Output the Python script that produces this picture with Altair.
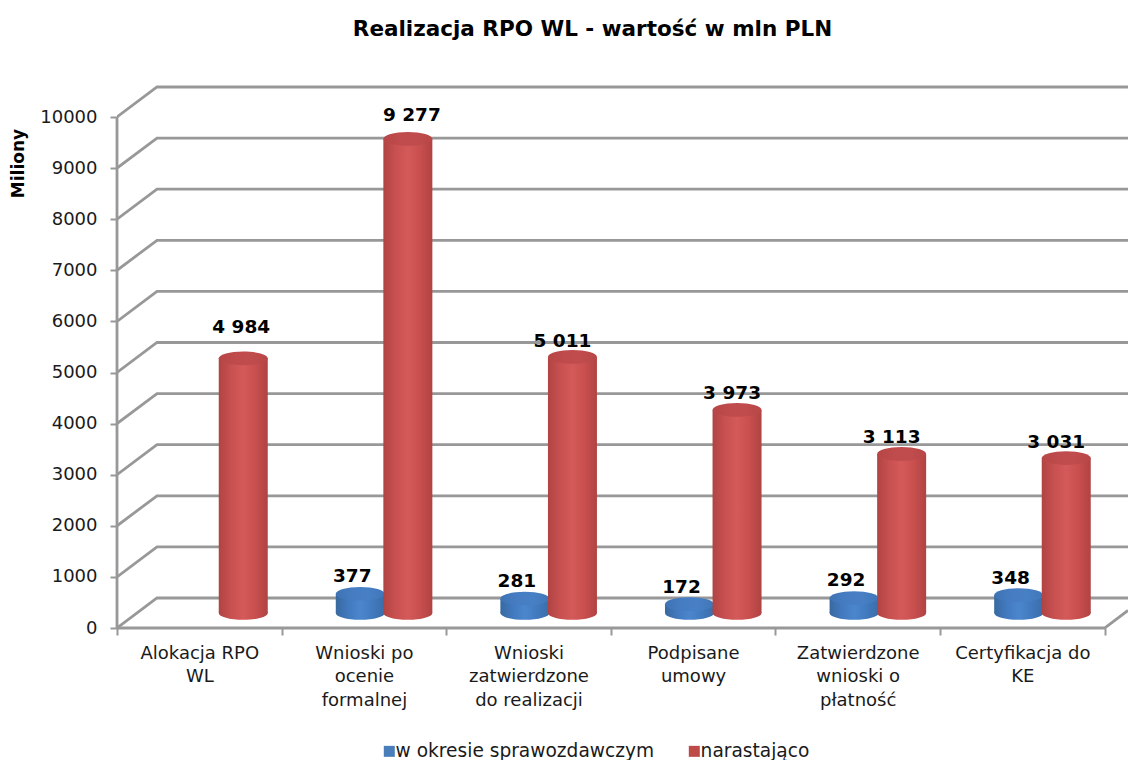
import json
import altair as alt
import pandas as pd

TITLE = "Realizacja RPO WL - wartość w mln PLN"
Y_TITLE = "Miliony"
CATEGORIES = [
    ["Alokacja RPO", "WL"],
    ["Wnioski po", "ocenie", "formalnej"],
    ["Wnioski", "zatwierdzone", "do realizacji"],
    ["Podpisane", "umowy"],
    ["Zatwierdzone", "wnioski o", "płatność"],
    ["Certyfikacja do", "KE"],
]
SERIES_NAMES = ["w okresie sprawozdawczym", "narastająco"]
PERIOD = [None, 377, 281, 172, 292, 348]
CUMULATIVE = [4984, 9277, 5011, 3973, 3113, 3031]
Y_TICKS = [0, 1000, 2000, 3000, 4000, 5000, 6000, 7000, 8000, 9000, 10000]

# layout of the pseudo-3D box (in data units of the two scales)
PLOT_W, PLOT_H = 1011, 568
PX_X, PX_Y = 164.6, 0.0511
X_MAX = PLOT_W / PX_X
Y_MAX = PLOT_H / PX_Y
DX, DV = 40 / PX_X, 30 / PX_Y
BASE = 15 / PX_Y
HALF = 24.5 / PX_X
CENTER = {"blue": 0.478, "red": 0.767}
NUDGE_RED = [(-2, 31), (4, 24), (-10, 16), (-5, 17), (-10, 17), (-10, 16)]
NUDGE_BLUE = [None, (-8, 18), (-8, 18), (-8, 17), (-8, 18), (-8, 17)]

GRID = "#989898"
FONT = "DejaVu Sans"

xs = alt.Scale(domain=[0, X_MAX], nice=False, zero=False)
ys = alt.Scale(domain=[0, Y_MAX], nice=False, zero=False)

labels_js = json.dumps(CATEGORIES, ensure_ascii=False)
X_AXIS = alt.Axis(
    values=[i / 2 for i in range(13)], domain=False, grid=False, title=None,
    tickColor=GRID, tickWidth=2, tickSize=7,
    tickOpacity={"condition": {"test": "datum.value % 1 == 0", "value": 1}, "value": 0},
    labelExpr=f"datum.value % 1 == 0.5 ? {labels_js}[floor(datum.value)] : ''",
    labelFont=FONT, labelFontSize=18, labelColor="#1a1a1a", labelPadding=9,
    labelLineHeight=23.5, labelOverlap=False, labelBound=False, labelFlush=False, labelAngle=0,
)
Y_AXIS = alt.Axis(
    values=Y_TICKS, format="d", domain=False, grid=False, tickColor=GRID, tickWidth=2, tickSize=7,
    labelFont=FONT, labelFontSize=18, labelColor="#1a1a1a", labelPadding=13, labelOverlap=False,
    title=Y_TITLE, titleFont=FONT, titleFontSize=17, titleFontWeight="bold", titleColor="#000000",
    titleX=-90, titleY=103, titleAngle=-90,
)


def fx(name="x"):
    return alt.X(f"{name}:Q", scale=xs, axis=X_AXIS)


def fy(name="y"):
    return alt.Y(f"{name}:Q", scale=ys, axis=Y_AXIS)


def grad(stops):
    n = len(stops) - 1
    return alt.Gradient(
        gradient="linear", x1=0, x2=1, y1=0, y2=0,
        stops=[alt.GradientStop(offset=i / n, color=c) for i, c in enumerate(stops)],
    )


RED_BODY = grad(["#b04443", "#c85050", "#d35a58", "#c84f4e", "#b04342"])
RED_TOP = grad(["#b74647", "#bf4b4c", "#c04c4d", "#b94748"])
BLUE_BODY = grad(["#38699f", "#4279bf", "#4b86cc", "#427abf", "#3a6ca8"])
BLUE_TOP = grad(["#3e72b4", "#467dc2", "#4880c5", "#4076b9"])
ELLIPSE = "M-1,0A1,0.28,0,1,0,1,0A1,0.28,0,1,0,-1,0Z"
SIZE = 49 ** 2

# grid polylines on the side and back walls
grid_rows = []
for v in Y_TICKS:
    grid_rows += [
        {"v": v, "o": 0, "x": 0, "y": v},
        {"v": v, "o": 1, "x": DX, "y": v + DV},
        {"v": v, "o": 2, "x": X_MAX, "y": v + DV},
    ]
grid = alt.Chart(pd.DataFrame(grid_rows)).mark_line(color=GRID, strokeWidth=2.8, clip=True).encode(
    x=fx(), y=fy(), detail="v:N", order="o:Q"
)

frame_rows = [
    {"k": "wall", "o": 0, "x": 0, "y": 0},
    {"k": "wall", "o": 1, "x": 0, "y": 10000},
    {"k": "floor", "o": 0, "x": 0, "y": 0},
    {"k": "floor", "o": 1, "x": 6, "y": 0},
    {"k": "floor", "o": 2, "x": X_MAX, "y": (X_MAX - 6) / DX * DV},
]
frame = alt.Chart(pd.DataFrame(frame_rows)).mark_line(color=GRID, strokeWidth=2.8).encode(
    x=fx(), y=fy(), detail="k:N", order="o:Q"
)


def cylinders(values, key, body, top):
    rows = []
    for i, v in enumerate(values):
        if v is None:
            continue
        c = i + CENTER[key]
        rows.append({"x": c, "x0": c - HALF, "x1": c + HALF, "y0": BASE, "y1": BASE + v})
    base = alt.Chart(pd.DataFrame(rows))
    return [
        base.mark_point(shape=ELLIPSE, size=SIZE, filled=True, fill=body, opacity=1, strokeOpacity=0)
        .encode(x=fx(), y=fy("y0")),
        base.mark_bar(fill=body).encode(x=fx("x0"), x2=alt.X2("x1"), y=fy("y0"), y2=alt.Y2("y1")),
        base.mark_point(shape=ELLIPSE, size=SIZE, filled=True, fill=top, opacity=1, strokeOpacity=0)
        .encode(x=fx(), y=fy("y1")),
    ]


def fmt(v):
    return f"{v:,}".replace(",", " ")


label_rows = []
for i, (v, n) in enumerate(zip(CUMULATIVE, NUDGE_RED)):
    label_rows.append({"x": i + CENTER["red"] + n[0] / PX_X,
                       "y": BASE + v + n[1] / PX_Y, "t": fmt(v)})
for i, (v, n) in enumerate(zip(PERIOD, NUDGE_BLUE)):
    if v is not None:
        label_rows.append({"x": i + CENTER["blue"] + n[0] / PX_X,
                           "y": BASE + v + n[1] / PX_Y, "t": fmt(v)})
value_labels = alt.Chart(pd.DataFrame(label_rows)).mark_text(
    font=FONT, fontSize=18.5, fontWeight="bold", color="#000000", baseline="middle"
).encode(x=fx(), y=fy(), text="t:N")

legend_df = pd.DataFrame({"s": SERIES_NAMES, "x": [0, 0], "y": [0, 0]})
legend = alt.Chart(legend_df).mark_square(opacity=0, size=1).encode(
    x=fx(), y=fy(),
    color=alt.Color("s:N", sort=SERIES_NAMES,
                    scale=alt.Scale(domain=SERIES_NAMES, range=["#4a7ebb", "#be4b48"]),
                    legend=alt.Legend(
                        orient="none", direction="horizontal", title=None,
                        legendX=263, legendY=682, labelLimit=500,
                        symbolType="square", symbolSize=121, symbolOpacity=1, symbolStrokeWidth=0,
                        labelFont=FONT, labelFontSize=18.6, labelColor="#1a1a1a",
                        labelOffset={"expr": "-3"}, columnPadding=30, padding=0,
                    )),
)

chart = alt.layer(
    grid, frame,
    *cylinders(PERIOD, "blue", BLUE_BODY, BLUE_TOP),
    *cylinders(CUMULATIVE, "red", RED_BODY, RED_TOP),
    value_labels, legend,
).properties(
    width=PLOT_W, height=PLOT_H,
    padding={"left": 109, "top": 52, "right": 0, "bottom": 132},
    autosize=alt.AutoSizeParams(type="none"),
    title=alt.TitleParams(TITLE, font=FONT, fontSize=21.5, fontWeight="bold", color="#000000",
                          anchor="middle", dx=-30, offset=20),
).configure_view(stroke=None)

chart.save("out.html", embed_options={"renderer": "svg", "actions": False})
